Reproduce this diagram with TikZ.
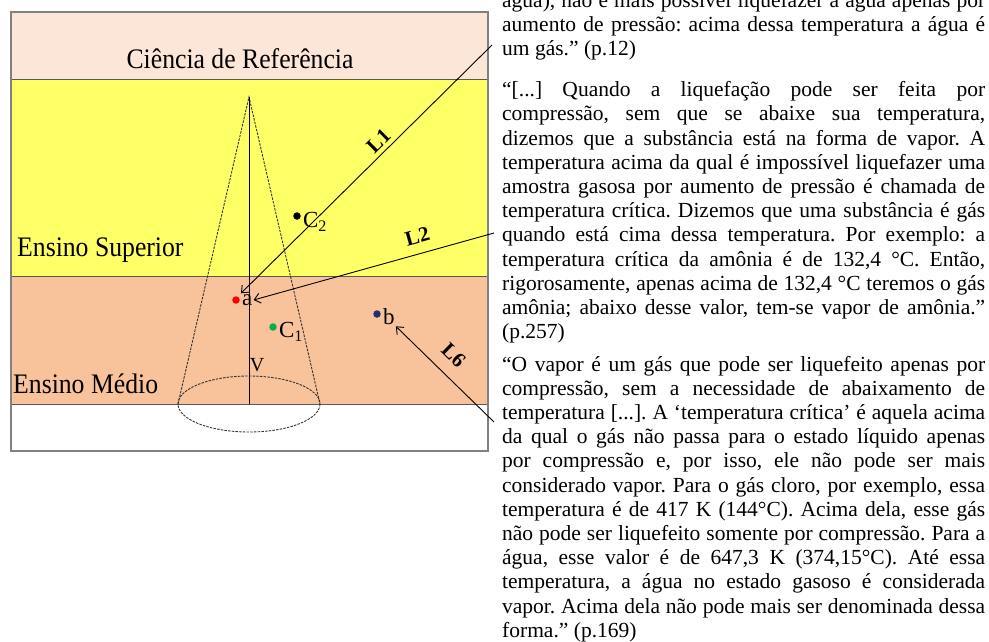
\documentclass[tikz,border=0pt]{standalone}
\usepackage{fontspec}
\setmainfont{Liberation Serif}
\usetikzlibrary{positioning,arrows.meta}
\definecolor{refpink}{HTML}{FCE6D8}
\definecolor{supyellow}{HTML}{FFFF66}
\definecolor{medorange}{HTML}{F8C29A}
\definecolor{dotgreen}{HTML}{00B050}
\definecolor{dotblue}{HTML}{1F2F6F}
\tolerance=10000
\frenchspacing
\tikzset{band/.style={draw=black!65,line width=0.9pt},
	 spot/.style={circle,fill,inner sep=0pt,minimum size=7.5pt},
	 ptlabel/.style={font=\fontsize{23}{23}\selectfont,inner sep=1pt},
	 level/.style={font=\fontsize{25.7}{26}\selectfont,inner sep=0pt},
	 cone/.style={draw=black!80,line width=0.9pt,dash pattern=on 2.5pt off 1.2pt},
	 link/.style={line width=0.9pt,{Straight Barb[length=6pt,width=10pt]}-},
	 linklabel/.style={font=\bfseries\fontsize{21}{21}\selectfont,sloped,above,inner sep=1pt},
	 excerpt/.style={anchor=base west,inner sep=0pt,text width=483pt,align=justify,
	   font=\fontsize{21.5}{24.2}\selectfont}
	 }

\begin{document}
\begin{tikzpicture}[x=1pt,y=-1pt] % levels of knowledge and the three quotes
	\useasboundingbox (0,0) rectangle (989,641);
	\fill[refpink] (11,12) rectangle (488,79);
	\fill[supyellow] (11,79) rectangle (488,276);
	\fill[medorange] (11,276) rectangle (488,404);
	\draw[band] (11,79) -- (488,79) (11,276) -- (488,276) (11,404) -- (488,404);
	\draw[black!50,line width=1.5pt] (11,12) rectangle (488,451);
	\node[level,anchor=base] (ref) at (240,68) {\scalebox{1}[1.1]{Ciência de Referência}};
	\node[level,anchor=base west] (sup) at (17,256) {\scalebox{1}[1.1]{Ensino Superior}};
	\node[level,anchor=base west] (med) at (13,393) {\scalebox{1}[1.1]{Ensino Médio}};
	\coordinate (apex) at (249,97);
	\coordinate (base) at (249,404);
	\draw[cone] (base) ellipse [x radius=71,y radius=28];
	\draw[cone] (178,404) -- (apex) -- (320,404);
	\draw[line width=0.8pt] (apex) -- (base);
	\node[font=\fontsize{20}{20}\selectfont,inner sep=0pt] (v) at (257,365) {V};
	\node[spot,red] (adot) at (236,300) {};
	\node[ptlabel] (a) [right=1pt of adot] {a};
	\node[spot,dotgreen] (c1dot) at (273,327) {};
	\node[ptlabel] (c1) [right=1pt of c1dot,yshift=-5pt] {C\textsubscript{1}};
	\node[spot] (c2dot) at (297,216) {};
	\node[ptlabel] (c2) [right=1pt of c2dot,yshift=-6pt] {C\textsubscript{2}};
	\node[spot,dotblue] (bdot) at (377,314) {};
	\node[ptlabel] (b) [right=1pt of bdot,yshift=-3pt] {b};
	\coordinate (q1) at (492,45);
	\coordinate (q2) at (494,233);
	\coordinate (q6) at (494,422);
	\draw[link] (a.north west) -- node[linklabel,pos=0.58,above=3pt] {L1} (q1);
	\draw[link] (a.east) -- node[linklabel,pos=0.7,above=9pt] {L2} (q2);
	\draw[link] (b.south east) -- node[linklabel,pos=0.45,above=11pt] {L6} (q6);
	\node[excerpt] (p1) at (502,7.5) {água), não é mais possível liquefazer a água apenas por\linebreak
	  aumento de pressão: acima dessa temperatura a água é\linebreak
	  um gás.” (p.12)};
	\node[excerpt] (p2) at (502,96.7) {“[...] Quando a liquefação pode ser feita por\linebreak
	  compressão, sem que se abaixe sua temperatura,\linebreak
	  dizemos que a substância está na forma de vapor. A\linebreak
	  temperatura acima da qual é impossível liquefazer uma\linebreak
	  amostra gasosa por aumento de pressão é chamada de\linebreak
	  temperatura crítica. Dizemos que uma substância é gás\linebreak
	  quando está cima dessa temperatura. Por exemplo: a\linebreak
	  temperatura crítica da amônia é de 132,4~°C. Então,\linebreak
	  rigorosamente, apenas acima de 132,4~°C teremos o gás\linebreak
	  amônia; abaixo desse valor, tem-se vapor de amônia.”\linebreak
	  (p.257)};
	\node[excerpt] (p3) at (502,371) {“O vapor é um gás que pode ser liquefeito apenas por\linebreak
	  compressão, sem a necessidade de abaixamento de\linebreak
	  temperatura [...]. A ‘temperatura crítica’ é aquela acima\linebreak
	  da qual o gás não passa para o estado líquido apenas\linebreak
	  por compressão e, por isso, ele não pode ser mais\linebreak
	  considerado vapor. Para o gás cloro, por exemplo, essa\linebreak
	  temperatura é de 417 K (144°C). Acima dela, esse gás\linebreak
	  não pode ser liquefeito somente por compressão. Para a\linebreak
	  água, esse valor é de 647,3 K (374,15°C). Até essa\linebreak
	  temperatura, a água no estado gasoso é considerada\linebreak
	  vapor. Acima dela não pode mais ser denominada dessa\linebreak
	  forma.” (p.169)};
\end{tikzpicture}
\end{document}
